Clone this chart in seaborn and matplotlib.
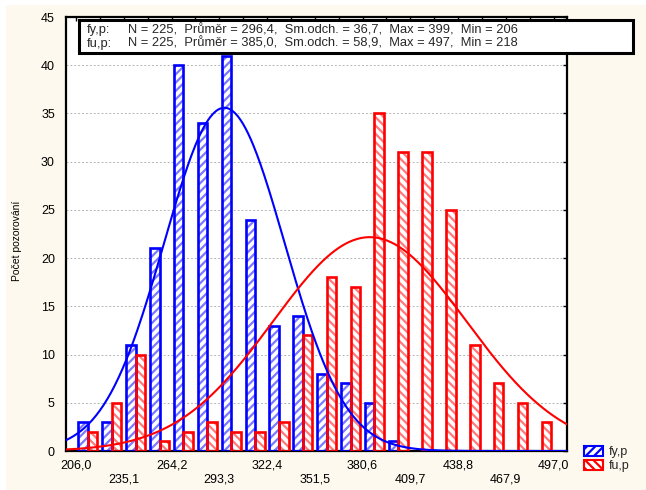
import numpy as np
import pandas as pd
import matplotlib
matplotlib.use('Agg')
import matplotlib.pyplot as plt
from matplotlib.patches import Rectangle, Patch
import seaborn as sns

# histogram: 20 bins between 206 and 497
x_lo, x_hi, n_bins = 206.0, 497.0, 20
fy_counts = [3, 3, 11, 21, 40, 34, 41, 24, 13, 14, 8, 7, 5, 1, 0, 0, 0, 0, 0, 0]
fu_counts = [2, 5, 10, 1, 2, 3, 2, 2, 3, 12, 18, 17, 35, 31, 31, 25, 11, 7, 5, 3]
series = ['fy,p', 'fu,p']
n_obs = [225, 225]
means = [296.4, 385.0]
sds = [36.7, 58.9]
maxs = [399, 497]
mins = [206, 218]
tick_vals = [206.0, 235.1, 264.2, 293.3, 322.4, 351.5, 380.6, 409.7, 438.8, 467.9, 497.0]

edge_cols = ['#0000ff', '#ff0000']
hatch_cols = ['#7a7aff', '#ff7a7a']
hatches = ['////', '\\\\\\\\']

edges = np.linspace(x_lo, x_hi, n_bins + 1)
bw = edges[1] - edges[0]
centers = edges[:-1] + bw / 2

df = pd.DataFrame({
    'x': np.concatenate([centers, centers]),
    'n': fy_counts + fu_counts,
    's': [series[0]] * n_bins + [series[1]] * n_bins,
})
df = df[df['n'] > 0]

sns.set_theme(style='white')
plt.rcParams['font.family'] = ['Liberation Sans', 'DejaVu Sans']
plt.rcParams['hatch.linewidth'] = 1.6

fig = plt.figure(figsize=(6.46, 4.9), dpi=100, facecolor='white')
fig.patches.append(Rectangle((6 / 646, 0), 1, 1 - 5 / 490, transform=fig.transFigure,
                             facecolor='#fdf9ee', edgecolor='none', zorder=-10))
ax = fig.add_axes([66 / 646, 1 - 451 / 490, 501 / 646, 434 / 490])
ax.set_facecolor('white')

# hatched fill
sns.barplot(data=df, x='x', y='n', hue='s', hue_order=series, native_scale=True,
            dodge=True, width=0.8, gap=0, errorbar=None, legend=False,
            palette=dict(zip(series, hatch_cols)), linewidth=0, ax=ax, zorder=2)
n_fy = (np.array(fy_counts) > 0).sum()
for i, p in enumerate(list(ax.patches)):
    k = 0 if i < n_fy else 1
    p.set_facecolor('white')
    p.set_edgecolor(hatch_cols[k])
    p.set_hatch(hatches[k])
# outlines
sns.barplot(data=df, x='x', y='n', hue='s', hue_order=series, native_scale=True,
            dodge=True, width=0.8, gap=0, errorbar=None, legend=False, fill=False,
            palette=dict(zip(series, edge_cols)), linewidth=1.9, ax=ax, zorder=3)

# fitted normal curves
xlim = (199.9, 505.2)
xs = np.linspace(xlim[0], xlim[1], 400)
for k in range(2):
    ys = n_obs[k] * bw * np.exp(-0.5 * ((xs - means[k]) / sds[k]) ** 2) / (sds[k] * np.sqrt(2 * np.pi))
    sns.lineplot(x=xs, y=ys, color=edge_cols[k], lw=1.5, ax=ax, zorder=4)

ax.set_xlim(*xlim)
ax.set_ylim(0, 45)
ax.set_yticks(range(0, 46, 5))
ax.set_xticks(tick_vals)
ax.set_xticklabels([('\n' if i % 2 else '') + f'{v:.1f}'.replace('.', ',')
                    for i, v in enumerate(tick_vals)])
ax.set_xticks(edges, minor=True)
ax.tick_params(axis='both', which='both', direction='in', length=3, width=1,
               color='black', top=True, right=True, labelsize=9, labelcolor='black')
ax.tick_params(axis='x', which='major', pad=6)
ax.tick_params(axis='y', which='major', pad=8)
ax.set_xlabel('')
ax.set_ylabel('Počet pozorování', fontsize=7.5, color='black')
ax.yaxis.set_label_coords(-0.087, 0.484)
ax.yaxis.grid(True, linestyle=(0, (2, 2)), color='#b5b5b5', lw=0.7)
ax.set_axisbelow(True)
for sp in ax.spines.values():
    sp.set_color('black')
    sp.set_linewidth(1.6)

# stats box
fig.patches.append(Rectangle((79 / 646, 1 - 53 / 490), 554 / 646, 33 / 490,
                             transform=fig.transFigure, facecolor='white',
                             edgecolor='black', lw=2.2, zorder=5))
for k, yy in enumerate([30, 43.5]):
    fig.text(87 / 646, 1 - yy / 490, series[k] + ':', fontsize=9.3, va='center', zorder=6)
    txt = (f'N = {n_obs[k]},  Průměr = {means[k]:.1f},  Sm.odch. = {sds[k]:.1f},  '
           f'Max = {maxs[k]},  Min = {mins[k]}').replace('.', ',').replace('Sm,odch,', 'Sm.odch.')
    fig.text(128 / 646, 1 - yy / 490, txt, fontsize=9.3, va='center', zorder=6)

handles = [Patch(facecolor='white', edgecolor=edge_cols[k], hatch=hatches[k], lw=1.5)
           for k in range(2)]
fig.legend(handles, series, loc='upper left', bbox_to_anchor=(584 / 646, 1 - 446 / 490),
           frameon=False, fontsize=9, handlelength=1.5, handleheight=0.8,
           handletextpad=0.5, labelspacing=0.15, borderpad=0, borderaxespad=0)

fig.savefig('out.png', dpi=100, facecolor=fig.get_facecolor())
